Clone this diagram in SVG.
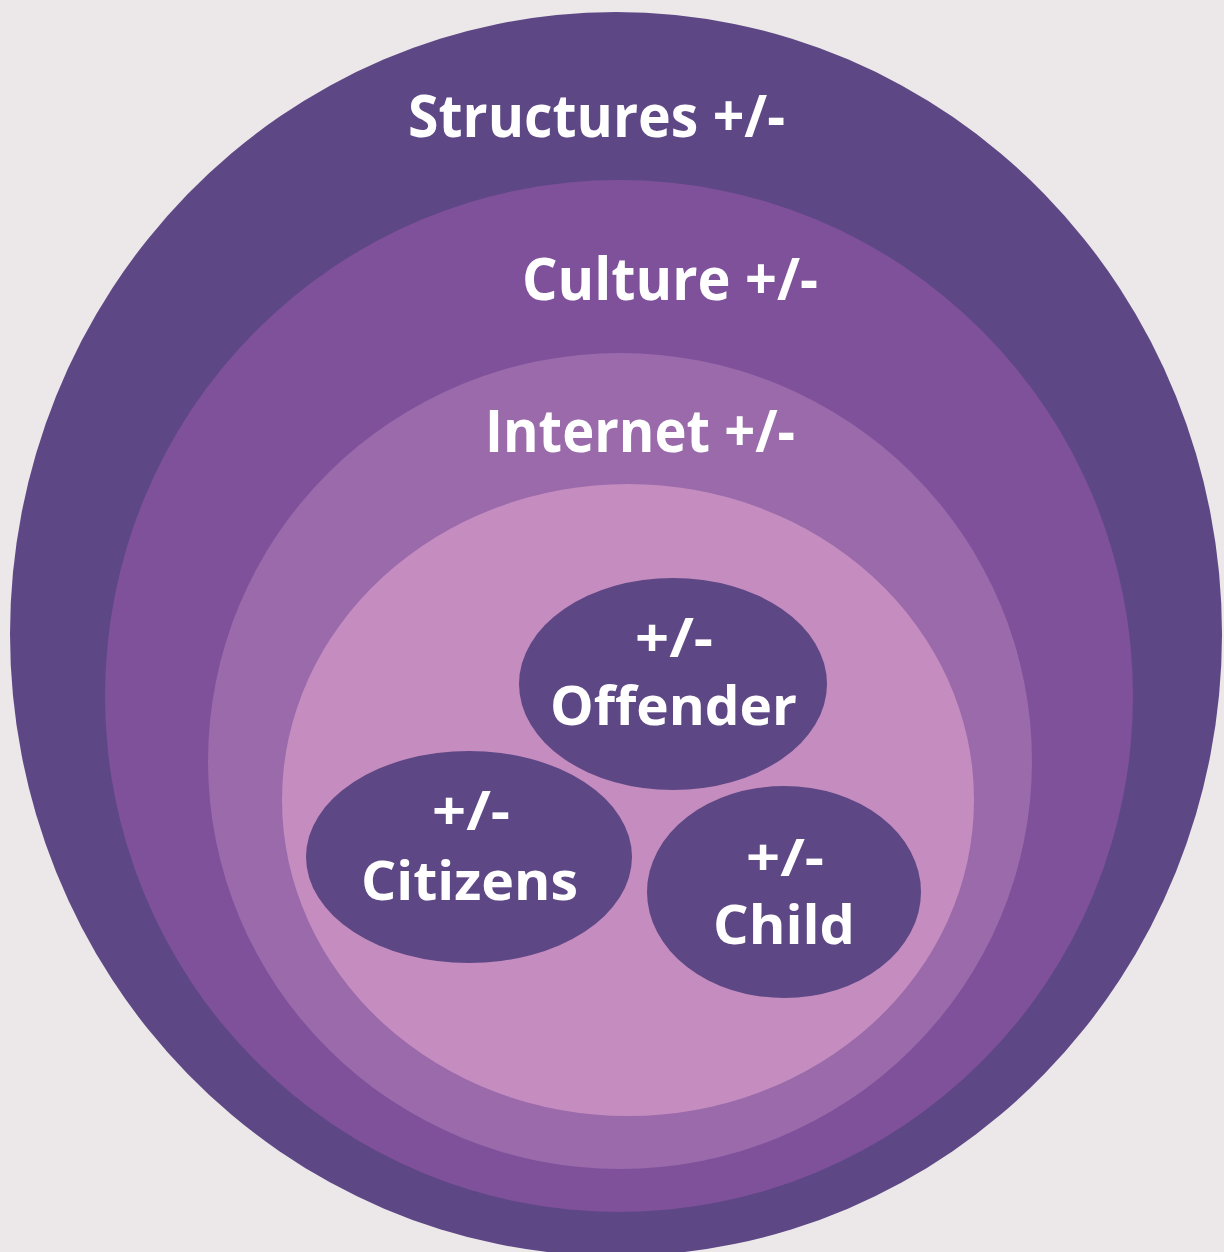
<svg xmlns="http://www.w3.org/2000/svg" width="1224" height="1252" viewBox="0 0 1224 1252">
<style>
.t{font-family:"Open Sans","Liberation Sans",sans-serif;font-weight:700;fill:#ffffff}
.big{font-size:59px}
.sm{font-size:54px}
.xs{font-size:52px}
.dark{fill:#5e4785}
</style>
<rect x="0" y="0" width="1224" height="1252" fill="#ece8e9"/>
<g id="structures">
<ellipse class="dark" cx="616" cy="634" rx="606" ry="622"/>
<text class="t big" x="408" y="137" textLength="377" lengthAdjust="spacingAndGlyphs">Structures +/-</text>
</g>
<g id="culture">
<ellipse cx="619" cy="696" rx="514" ry="516" fill="#7e519a"/>
<text class="t big" x="522" y="300" textLength="296" lengthAdjust="spacingAndGlyphs">Culture +/-</text>
</g>
<g id="internet">
<ellipse cx="620" cy="761" rx="412" ry="408" fill="#9a6aab"/>
<text class="t big" x="485" y="452" textLength="310" lengthAdjust="spacingAndGlyphs">Internet +/-</text>
</g>
<g id="inner">
<ellipse cx="628" cy="800" rx="346" ry="316" fill="#c58dbf"/>
</g>
<g id="offender">
<ellipse class="dark" cx="673" cy="684" rx="154" ry="106"/>
<text class="t sm" x="635" y="657" textLength="78" lengthAdjust="spacingAndGlyphs">+/-</text>
<text class="t sm" x="550" y="725" textLength="247" lengthAdjust="spacingAndGlyphs">Offender</text>
</g>
<g id="citizens">
<ellipse class="dark" cx="469" cy="857" rx="163" ry="106"/>
<text class="t sm" x="432" y="830" textLength="78" lengthAdjust="spacingAndGlyphs">+/-</text>
<text class="t sm" x="361" y="900" textLength="217" lengthAdjust="spacingAndGlyphs">Citizens</text>
</g>
<g id="child">
<ellipse class="dark" cx="784" cy="892" rx="137" ry="106"/>
<text class="t xs" x="746" y="876" textLength="78" lengthAdjust="spacingAndGlyphs">+/-</text>
<text class="t sm" x="713" y="944" textLength="142" lengthAdjust="spacingAndGlyphs">Child</text>
</g>
<g id="connectors"/>
</svg>
